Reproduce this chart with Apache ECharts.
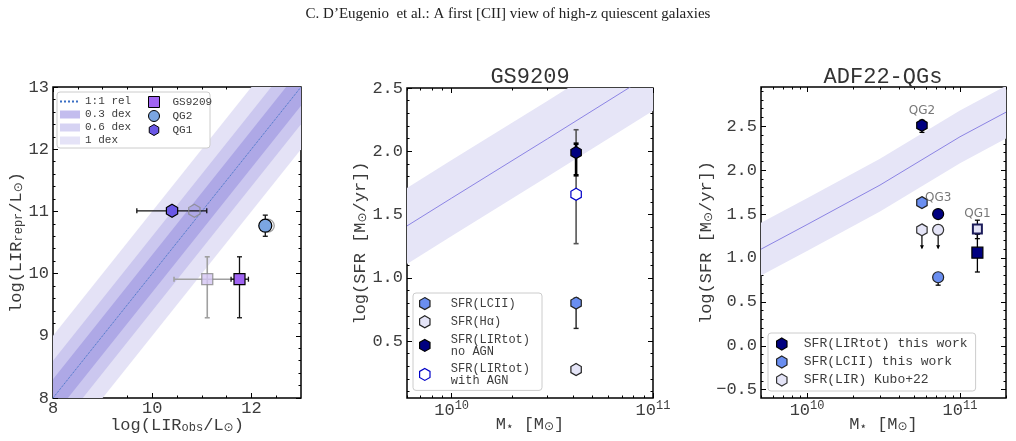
<!DOCTYPE html>
<html>
<head>
<meta charset="utf-8">
<script src="https://cdn.jsdelivr.net/npm/echarts@6/dist/echarts.min.js"></script>
<style>
  html, body { margin: 0; padding: 0; background: #fff; }
  #chart { width: 1016px; height: 441px; }
</style>
</head>
<body>
<div id="chart"></div>
<script>
const MONO = '"Liberation Mono", "DejaVu Sans Mono", monospace';
const TXT = '#3c3c3c';
const HEX = 'path://M0,-10L8.66,-5L8.66,5L0,10L-8.66,5L-8.66,-5Z';

// ---- left panel: LIR reprocessed vs observed ----
const p1Names = ['GS9209', 'QG2', 'QG1'];
const p1Obs = [11.76, 12.28, 10.40];
const p1ObsFaded = [11.11, 12.33, 10.85];
const p1Repr = [9.91, 10.77, 11.01];
const p1ObsLo = [11.59, null, 9.69];
const p1ObsHi = [11.94, null, 11.10];
const p1ReprLo = [9.29, 10.60, null];
const p1ReprHi = [10.27, 10.94, null];
const p1FadedObsLo = [10.44, null, null];
const p1FadedObsHi = [11.76, null, null];
const p1FadedReprLo = [9.29, null, null];
const p1FadedReprHi = [10.27, null, null];
const p1Diag = [8, 13];
const p1BandNames = ['1 dex', '0.6 dex', '0.3 dex'];
const p1BandWidths = [1.0, 0.6, 0.3];
const p1XTicks = [8, 10, 12];
const p1XMinor = [8.5, 9, 9.5, 10.5, 11, 11.5, 12.5];
const p1YTicks = [8, 9, 10, 11, 12, 13];
const p1YMinor = [8.2, 8.4, 8.6, 8.8, 9.2, 9.4, 9.6, 9.8, 10.2, 10.4, 10.6, 10.8,
                  11.2, 11.4, 11.6, 11.8, 12.2, 12.4, 12.6, 12.8];

// ---- middle panel: GS9209 ----
const p2Mass = 4.15e10;
const p2Names = ['SFR(LCII)', 'SFR(Hα)', 'SFR(LIRtot)\nno AGN', 'SFR(LIRtot)\nwith AGN'];
const p2Sfr = [0.80, 0.275, 1.99, 1.66];
const p2SfrLo = [0.60, null, 1.81, 1.27];
const p2SfrHi = [0.84, null, 2.06, 2.17];
const p2MsMass = [6e9, 1e10, 3e10, 1e11];
const p2MsSfr = [1.41, 1.63, 2.10, 2.62];
const p2XTicks = [1e10, 1e11];
const p2XMinor = [6e9, 7e9, 8e9, 9e9, 2e10, 3e10, 4e10, 5e10, 6e10, 7e10, 8e10, 9e10];
const p2YTicks = [0.5, 1.0, 1.5, 2.0, 2.5];
const p2YMinor = [0.1, 0.2, 0.3, 0.4, 0.6, 0.7, 0.8, 0.9, 1.1, 1.2, 1.3, 1.4,
                  1.6, 1.7, 1.8, 1.9, 2.1, 2.2, 2.3, 2.4];

// ---- right panel: ADF22 quiescent galaxies ----
const p3Galaxies = ['QG2', 'QG3', 'QG1'];
const p3Mass = [5.64e10, 7.2e10, 1.3e11];
const p3LirTot = [2.51, 1.50, 1.06];
const p3LirTotLo = [2.43, 1.45, 0.84];
const p3LirTotHi = [2.57, 1.55, 1.27];
const p3Lcii = [1.63, 0.78, null];
const p3LciiLo = [null, 0.69, null];
const p3LciiHi = [null, 0.83, null];
const p3Kubo = [1.32, 1.32, 1.33];
const p3KuboLo = [null, null, 1.22];
const p3KuboHi = [null, null, 1.43];
const p3KuboLimitTo = [1.11, 1.11, null];
const p3LabelY = [2.68, 1.68, 1.50];
const p3MsMass = [5e9, 1e10, 3e10, 1e11, 2e11];
const p3MsSfr = [1.10, 1.38, 1.83, 2.38, 2.66];
const p3XTicks = [1e10, 1e11];
const p3XMinor = [5e9, 6e9, 7e9, 8e9, 9e9, 2e10, 3e10, 4e10, 5e10, 6e10, 7e10, 8e10, 9e10, 2e11];
const p3YTicks = [-0.5, 0.0, 0.5, 1.0, 1.5, 2.0, 2.5];
const p3YMinor = [-0.4, -0.3, -0.2, -0.1, 0.1, 0.2, 0.3, 0.4, 0.6, 0.7, 0.8, 0.9,
                  1.1, 1.2, 1.3, 1.4, 1.6, 1.7, 1.8, 1.9, 2.1, 2.2, 2.3, 2.4, 2.6, 2.7, 2.8, 2.9];
const msHalfWidth = 0.3;

const chart = echarts.init(document.getElementById('chart'));

const labelFont = { fontFamily: MONO, fontSize: 17, color: TXT };
const nameRich = {
  s: { fontFamily: MONO, fontSize: 12, color: TXT, verticalAlign: 'bottom', padding: [6, 0, 0, 0] },
  o: { fontFamily: '"DejaVu Sans", sans-serif', fontSize: 12, color: TXT, padding: [6, 0, 0, 0] }
};
const fmtInt = (v) => String(v);
const fmtDec = (v) => v.toFixed(1).replace('-', '\u2212');
const fmtPow = (v) => '{b|10}{e|' + Math.round(Math.log10(v)) + '}';
const powRich = {
  b: { fontFamily: MONO, fontSize: 17, color: TXT },
  e: { fontFamily: MONO, fontSize: 12, color: TXT, padding: [0, 0, 8, 0] }
};

// four axes per dimension: labelled major, minor, mirrored major, mirrored minor
function axisSet(dim, grid, type, min, max, majors, minors, fmt, rich, named) {
  const pos = dim === 'x' ? ['bottom', 'top'] : ['left', 'right'];
  const out = [];
  pos.forEach((p, k) => {
    [[majors, 5], [minors, 2.5]].forEach(([vals, len], j) => {
      const main = k === 0 && j === 0;
      const ax = {
        type, gridIndex: grid, min, max, position: p,
        splitLine: { show: false },
        axisLine: { show: false, onZero: false },
        axisTick: { show: true, inside: true, length: len, customValues: vals,
                    lineStyle: { color: '#000', width: 1 } },
        axisLabel: { show: main, customValues: vals, formatter: fmt, margin: dim === 'x' ? 2 : 4,
                     ...labelFont, rich }
      };
      if (type === 'log') ax.logBase = 10;
      if (main && named) Object.assign(ax, { nameMoveOverlap: false }, named);
      out.push(ax);
    });
  });
  return out;
}

const xAxes = [], yAxes = [];
const X = [], Y = [];
function addAxes(list, store, arr) { store.push(arr.length); arr.push(...list); }

addAxes(axisSet('x', 0, 'value', 8, 13, p1XTicks, p1XMinor, fmtInt, null, {
  name: 'log(LIR{s|obs}/L{o|⊙})', nameLocation: 'middle', nameGap: 18,
  nameTextStyle: { ...labelFont, rich: nameRich }
}), X, xAxes);
addAxes(axisSet('y', 0, 'value', 8, 13, p1YTicks, p1YMinor, fmtInt, null, {
  name: 'log(LIR{s|repr}/L{o|⊙})', nameLocation: 'middle', nameGap: 28, nameRotate: 90,
  nameTextStyle: { ...labelFont, rich: nameRich }
}), Y, yAxes);
addAxes(axisSet('x', 1, 'log', 6e9, 1e11, p2XTicks, p2XMinor, fmtPow, powRich, {
  name: 'M{o|⋆} [M{o|⊙}]', nameLocation: 'middle', nameGap: 17,
  nameTextStyle: { ...labelFont, rich: nameRich }
}), X, xAxes);
addAxes(axisSet('y', 1, 'value', 0.05, 2.5, p2YTicks, p2YMinor, fmtDec, null, {
  name: 'log(SFR [M{o|⊙}/yr])', nameLocation: 'middle', nameGap: 38, nameRotate: 90,
  nameTextStyle: { ...labelFont, rich: nameRich }
}), Y, yAxes);
addAxes(axisSet('x', 2, 'log', 5e9, 2e11, p3XTicks, p3XMinor, fmtPow, powRich, {
  name: 'M{o|⋆} [M{o|⊙}]', nameLocation: 'middle', nameGap: 17,
  nameTextStyle: { ...labelFont, rich: nameRich }
}), X, xAxes);
addAxes(axisSet('y', 2, 'value', -0.595, 2.947, p3YTicks, p3YMinor, fmtDec, null, {
  name: 'log(SFR [M{o|⊙}/yr])', nameLocation: 'middle', nameGap: 46, nameRotate: 90,
  nameTextStyle: { ...labelFont, rich: nameRich }
}), Y, yAxes);

const CAP = 2.5;
function errBars(xi, yi, rows, color, width, z) {
  return {
    type: 'custom', xAxisIndex: xi, yAxisIndex: yi, z, silent: true, clip: true,
    data: rows,
    renderItem(params, api) {
      const x = api.value(0), y = api.value(1);
      const kids = [];
      const seg = (a, b) => kids.push({ type: 'line', shape: { x1: a[0], y1: a[1], x2: b[0], y2: b[1] },
                                        style: { stroke: color, lineWidth: width } });
      const xlo = api.value(2), xhi = api.value(3), ylo = api.value(4), yhi = api.value(5);
      if (isFinite(xlo) && isFinite(xhi)) {
        const a = api.coord([xlo, y]), b = api.coord([xhi, y]);
        seg(a, b);
        seg([a[0], a[1] - CAP], [a[0], a[1] + CAP]);
        seg([b[0], b[1] - CAP], [b[0], b[1] + CAP]);
      }
      if (isFinite(ylo) && isFinite(yhi)) {
        const a = api.coord([x, ylo]), b = api.coord([x, yhi]);
        seg(a, b);
        seg([a[0] - CAP, a[1]], [a[0] + CAP, a[1]]);
        seg([b[0] - CAP, b[1]], [b[0] + CAP, b[1]]);
      }
      return { type: 'group', children: kids };
    }
  };
}

function upperLimits(xi, yi, rows, z) {
  return {
    type: 'custom', xAxisIndex: xi, yAxisIndex: yi, z, silent: true,
    data: rows,
    renderItem(params, api) {
      const a = api.coord([api.value(0), api.value(1)]);
      const b = api.coord([api.value(0), api.value(2)]);
      return { type: 'group', children: [
        { type: 'line', shape: { x1: a[0], y1: a[1], x2: b[0], y2: b[1] }, style: { stroke: '#000', lineWidth: 1.2 } },
        { type: 'polygon', shape: { points: [[b[0] - 2, b[1] - 3], [b[0] + 2, b[1] - 3], [b[0], b[1] + 1]] },
          style: { fill: '#000' } }
      ] };
    }
  };
}

function msBand(xi, yi, mass, sfr, name) {
  return [{
    type: 'custom', name, xAxisIndex: xi, yAxisIndex: yi, z: 1, silent: true, clip: true,
    data: [[mass[0], sfr[0]]],
    renderItem(params, api) {
      const up = mass.map((m, i) => api.coord([m, sfr[i] + msHalfWidth]));
      const lo = mass.map((m, i) => api.coord([m, sfr[i] - msHalfWidth])).reverse();
      return { type: 'polygon', shape: { points: up.concat(lo) }, style: { fill: '#e6e5f7' } };
    }
  }, {
    type: 'line', xAxisIndex: xi, yAxisIndex: yi, z: 2, silent: true, symbol: 'none',
    lineStyle: { color: '#8c84e4', width: 1 },
    data: mass.map((m, i) => [m, sfr[i]])
  }];
}

const rowsOf = (xs, ys, xlo, xhi, ylo, yhi) =>
  xs.map((x, i) => [x, ys[i], xlo[i], xhi[i], ylo[i], yhi[i]]).filter(r => r[1] != null);

const series = [];

// left panel
const bandFill = ['#e4e2f6', '#cbc7ef', '#aea8e6'];
p1BandWidths.forEach((d, i) => {
  series.push({
    type: 'custom', name: p1BandNames[i], xAxisIndex: X[0], yAxisIndex: Y[0], z: 1, silent: true, clip: true,
    itemStyle: { color: bandFill[i] },
    data: [[p1Diag[0], p1Diag[0]]],
    renderItem(params, api) {
      const pts = [
        api.coord([p1Diag[0], p1Diag[0] + d]), api.coord([p1Diag[1], p1Diag[1] + d]),
        api.coord([p1Diag[1], p1Diag[1] - d]), api.coord([p1Diag[0], p1Diag[0] - d])
      ];
      return { type: 'polygon', shape: { points: pts }, style: { fill: bandFill[i] } };
    }
  });
});
series.push({
  type: 'line', name: '1:1 rel', xAxisIndex: X[0], yAxisIndex: Y[0], z: 2, silent: true, symbol: 'none',
  lineStyle: { color: '#3a6fc4', width: 1, type: 'dotted' },
  itemStyle: { color: '#3a6fc4' },
  data: p1Diag.map(v => [v, v])
});
series.push(errBars(X[0], Y[0], rowsOf(p1ObsFaded, p1Repr, p1FadedObsLo, p1FadedObsHi, p1FadedReprLo, p1FadedReprHi),
  '#a0a0a0', 1.6, 3));
series.push(errBars(X[0], Y[0], rowsOf(p1Obs, p1Repr, p1ObsLo, p1ObsHi, p1ReprLo, p1ReprHi), '#111', 1.3, 4));
const p1Style = [
  { symbol: 'rect', size: 11, fill: '#a064f2', faded: '#d4c6f4' },
  { symbol: 'circle', size: 13, fill: '#7ba6e2', faded: 'rgba(255,255,255,0)' },
  { symbol: HEX, size: 13, fill: '#6a57e6', faded: 'rgba(255,255,255,0)' }
];
p1Names.forEach((n, i) => {
  series.push({
    type: 'scatter', name: n + ' scaled', xAxisIndex: X[0], yAxisIndex: Y[0], z: 5, silent: true,
    symbol: p1Style[i].symbol, symbolSize: p1Style[i].size, symbolKeepAspect: true,
    itemStyle: { color: p1Style[i].faded, borderColor: '#8a8a8a', borderWidth: 1.3 },
    data: [[p1ObsFaded[i], p1Repr[i]]]
  });
  series.push({
    type: 'scatter', name: n, xAxisIndex: X[0], yAxisIndex: Y[0], z: 6, silent: true,
    symbol: p1Style[i].symbol, symbolSize: p1Style[i].size, symbolKeepAspect: true,
    itemStyle: { color: p1Style[i].fill, borderColor: '#000', borderWidth: 1.2, opacity: 1 },
    data: [[p1Obs[i], p1Repr[i]]]
  });
});

// middle panel
series.push(...msBand(X[1], Y[1], p2MsMass, p2MsSfr, 'MS GS9209'));
const p2Fill = ['#6a8ef0', '#e4e4f7', '#000080', '#ffffff'];
const p2Edge = ['#222', '#222', '#000', '#0000c8'];
series.push(errBars(X[1], Y[1], [[p2Mass, p2Sfr[3], null, null, p2SfrLo[3], p2SfrHi[3]]], '#555', 1.6, 3));
series.push(errBars(X[1], Y[1], [[p2Mass, p2Sfr[2], null, null, p2SfrLo[2], p2SfrHi[2]]], '#000', 2.6, 3));
series.push(errBars(X[1], Y[1], [[p2Mass, p2Sfr[0], null, null, p2SfrLo[0], p2SfrHi[0]]], '#222', 1.4, 3));
[1, 0, 3, 2].forEach(i => {
  series.push({
    type: 'scatter', name: p2Names[i], xAxisIndex: X[1], yAxisIndex: Y[1], z: 5, silent: true,
    symbol: HEX, symbolSize: 12, symbolKeepAspect: true,
    itemStyle: { color: p2Fill[i], borderColor: p2Edge[i], borderWidth: 1.2, opacity: 1 },
    data: [[p2Mass, p2Sfr[i]]]
  });
});

// right panel
series.push(...msBand(X[2], Y[2], p3MsMass, p3MsSfr, 'MS ADF22'));
const none3 = [null, null, null];
series.push(errBars(X[2], Y[2], rowsOf(p3Mass, p3LirTot, none3, none3, p3LirTotLo, p3LirTotHi), '#000', 1.3, 3));
series.push(errBars(X[2], Y[2], rowsOf(p3Mass, p3Lcii, none3, none3, p3LciiLo, p3LciiHi), '#000', 1.3, 3));
series.push(errBars(X[2], Y[2], rowsOf(p3Mass, p3Kubo, none3, none3, p3KuboLo, p3KuboHi), '#000', 1.3, 3));
series.push(upperLimits(X[2], Y[2],
  p3Mass.map((m, i) => [m, p3Kubo[i], p3KuboLimitTo[i]]).filter(r => r[2] != null), 3));
const p3Shapes = [HEX, 'circle', 'rect'];
const p3Sizes = [12, 11, 11];
const p3Methods = [
  { name: 'SFR(LIRtot) this work', vals: p3LirTot, fill: '#000080', edge: '#000' },
  { name: 'SFR(LCII) this work', vals: p3Lcii, fill: '#6a8ef0', edge: '#222' },
  { name: 'SFR(LIR) Kubo+22', vals: p3Kubo, fill: '#e4e4f7', edge: '#333' }
];
p3Methods.forEach((m, k) => {
  series.push({
    type: 'scatter', name: m.name, xAxisIndex: X[2], yAxisIndex: Y[2], z: 5 + k, silent: true,
    symbol: HEX, symbolKeepAspect: true,
    itemStyle: { color: m.fill, borderColor: m.edge, borderWidth: 1.2, opacity: 1 },
    data: p3Mass.map((x, i) => {
      if (m.vals[i] == null) return null;
      const it = { value: [x, m.vals[i]], symbol: p3Shapes[i], symbolSize: p3Sizes[i] };
      if (k === 2 && i === 2) {
        it.symbolSize = 9;
        it.itemStyle = { borderColor: '#1c1c5a', borderWidth: 2 };
      }
      return it;
    }).filter(Boolean)
  });
});
series.push({
  type: 'scatter', xAxisIndex: X[2], yAxisIndex: Y[2], z: 8, silent: true, symbolSize: 0,
  label: { show: true, position: 'inside', formatter: p => p.value[2],
           fontFamily: '"DejaVu Sans", sans-serif', fontSize: 12, color: '#555' },
  data: p3Mass.map((m, i) => [m, p3LabelY[i], p3Galaxies[i]])
});

const legendText = (size, lh) => ({ fontFamily: MONO, fontSize: size, lineHeight: lh, color: TXT });
const option = {
  animation: false,
  backgroundColor: '#fff',
  grid: [
    { left: 53, top: 87, width: 248, height: 311, show: true, borderColor: '#000', borderWidth: 1.5, outerBoundsMode: 'none' },
    { left: 407, top: 88, width: 246, height: 310, show: true, borderColor: '#000', borderWidth: 1.5, outerBoundsMode: 'none' },
    { left: 761, top: 87, width: 245, height: 311, show: true, borderColor: '#000', borderWidth: 1.5, outerBoundsMode: 'none' }
  ],
  xAxis: xAxes,
  yAxis: yAxes,
  legend: [
    {
      left: 55, top: 92, orient: 'vertical', padding: [4, 4], itemGap: 2, itemWidth: 20, itemHeight: 8,
      selectedMode: false, z: 10, textStyle: legendText(11, 11),
      data: [
        { name: '1:1 rel', itemStyle: { color: 'rgba(0,0,0,0)', borderColor: 'rgba(0,0,0,0)', borderWidth: 0 } },
        { name: '0.3 dex', icon: 'rect', itemStyle: { color: '#c3bdee' } },
        { name: '0.6 dex', icon: 'rect', itemStyle: { color: '#d6d3f3' } },
        { name: '1 dex', icon: 'rect', itemStyle: { color: '#e5e3f7' } }
      ]
    },
    {
      left: 144, top: 92, orient: 'vertical', padding: [4, 4], itemGap: 2, itemWidth: 11, itemHeight: 11,
      selectedMode: false, z: 10, textStyle: { ...legendText(11, 11), padding: [0, 0, 0, 8] },
      data: [
        { name: 'GS9209', icon: 'rect', itemStyle: { color: '#a064f2', borderColor: '#000', borderWidth: 1 } },
        { name: 'QG2', icon: 'circle', itemStyle: { color: '#7ba6e2', borderColor: '#000', borderWidth: 1 } },
        { name: 'QG1', icon: HEX, itemStyle: { color: '#6a57e6', borderColor: '#000', borderWidth: 1 } }
      ]
    },
    {
      left: 413, top: 293, orient: 'vertical', padding: [4, 12, 4, 6], itemGap: 5, itemWidth: 24, itemHeight: 12,
      selectedMode: false, z: 10, backgroundColor: '#fff', borderColor: '#ccc', borderWidth: 1, borderRadius: 3,
      textStyle: { ...legendText(12, 12), padding: [0, 0, 0, 9] },
      data: p2Names.map((n, i) => ({ name: n, icon: HEX,
        itemStyle: { color: p2Fill[i], borderColor: p2Edge[i], borderWidth: 1.2 } }))
    },
    {
      left: 768, top: 333, orient: 'vertical', padding: [4, 8, 4, 8], itemGap: 4, itemWidth: 24, itemHeight: 12,
      selectedMode: false, z: 10, backgroundColor: '#fff', borderColor: '#ccc', borderWidth: 1, borderRadius: 3,
      textStyle: { ...legendText(13, 14), padding: [0, 0, 0, 5] },
      data: p3Methods.map(m => ({ name: m.name, icon: HEX,
        itemStyle: { color: m.fill, borderColor: m.edge, borderWidth: 1.2 } }))
    }
  ],
  graphic: [
    { type: 'rect', z: 9, shape: { x: 57, y: 92, width: 153, height: 56, r: 3 },
      style: { fill: '#fff', stroke: '#ccc', lineWidth: 1 } },
    { type: 'text', x: 508, y: 14, z: 10,
      style: { text: 'C. D’Eugenio  et al.: A first [CII] view of high-z quiescent galaxies',
               font: '15px "Liberation Serif", serif', fill: '#222', align: 'center', verticalAlign: 'middle' } },
    { type: 'text', x: 530, y: 77, z: 10,
      style: { text: 'GS9209', font: '22px ' + MONO, fill: '#333', align: 'center', verticalAlign: 'middle' } },
    { type: 'text', x: 883, y: 77, z: 10,
      style: { text: 'ADF22-QGs', font: '22px ' + MONO, fill: '#333', align: 'center', verticalAlign: 'middle' } }
  ],
  series
};
chart.setOption(option);
</script>
</body>
</html>
